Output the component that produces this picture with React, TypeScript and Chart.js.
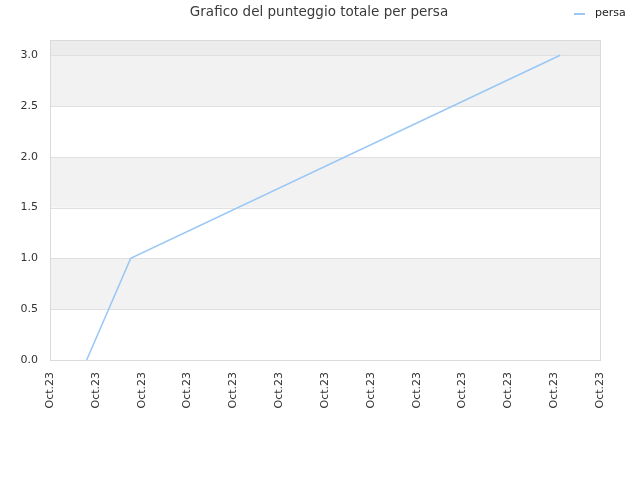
import React, { useEffect, useRef } from "react";
import { Chart, registerables } from "chart.js";

Chart.register(...registerables);

const chartTitle = "Grafico del punteggio totale per persa";
const seriesName = "persa";
const xTickLabels = ["Oct.23", "Oct.23", "Oct.23", "Oct.23", "Oct.23", "Oct.23", "Oct.23", "Oct.23", "Oct.23", "Oct.23", "Oct.23", "Oct.23", "Oct.23"];
const xPositions = [0.8, 1.76, 11.13];
const scores = [0, 1, 3];
const yTickValues = [0, 0.5, 1, 1.5, 2, 2.5, 3];

const FONT = "'DejaVu Sans', sans-serif";

const decorPlugin = {
  id: "decor",
  beforeDatasetsDraw(chart: any) {
    const { ctx, chartArea, scales } = chart;
    const y = scales.y;
    ctx.save();
    const ticks = y.ticks.map((t: any) => t.value);
    for (let i = 0; i < ticks.length; i++) {
      const lo = ticks[i];
      const hi = i + 1 < ticks.length ? ticks[i + 1] : y.max;
      const top = y.getPixelForValue(hi);
      const bot = y.getPixelForValue(lo);
      let color: string | null = null;
      if (i === ticks.length - 1) color = "#ececec";
      else if (i % 2 === 1) color = "#f2f2f2";
      if (color) {
        ctx.fillStyle = color;
        ctx.fillRect(chartArea.left, top, chartArea.right - chartArea.left, bot - top);
      }
    }
    ctx.strokeStyle = "#e0e0e0";
    ctx.lineWidth = 1;
    for (let i = 1; i < ticks.length; i++) {
      const py = Math.round(y.getPixelForValue(ticks[i])) + 0.5;
      ctx.beginPath();
      ctx.moveTo(chartArea.left, py);
      ctx.lineTo(chartArea.right, py);
      ctx.stroke();
    }
    ctx.strokeStyle = "#dadada";
    ctx.strokeRect(
      Math.round(chartArea.left) + 0.5,
      Math.round(chartArea.top) + 0.5,
      Math.round(chartArea.right - chartArea.left),
      Math.round(chartArea.bottom - chartArea.top)
    );
    ctx.restore();
  },
  afterDraw(chart: any) {
    const { ctx } = chart;
    ctx.save();
    ctx.fillStyle = "#3a3a3a";
    ctx.font = `13.5px ${FONT}`;
    ctx.textAlign = "center";
    ctx.textBaseline = "middle";
    ctx.fillText(chartTitle, 319, 12);
    const ds = chart.data.datasets[0];
    ctx.strokeStyle = ds.borderColor;
    ctx.lineWidth = 2;
    ctx.beginPath();
    ctx.moveTo(574, 14);
    ctx.lineTo(585, 14);
    ctx.stroke();
    ctx.fillStyle = "#222222";
    ctx.font = `11px ${FONT}`;
    ctx.textAlign = "left";
    ctx.fillText(ds.label, 595, 13);
    ctx.restore();
  },
};

export default function App() {
  const ref = useRef<HTMLCanvasElement | null>(null);
  useEffect(() => {
    document.body.style.margin = "0";
    if (!ref.current) return;
    const chart = new Chart(ref.current, {
      type: "line",
      data: {
        datasets: [
          {
            label: seriesName,
            data: xPositions.map((x, i) => ({ x, y: scores[i] })),
            borderColor: "#99c7f6",
            borderWidth: 1.5,
            pointRadius: 0,
            fill: false,
            tension: 0,
          },
        ],
      },
      options: {
        animation: false,
        responsive: false,
        maintainAspectRatio: false,
        layout: { padding: { top: 40, right: 40, left: 0, bottom: 0 } },
        plugins: {
          legend: { display: false },
          title: { display: false },
          tooltip: { enabled: false },
        },
        scales: {
          x: {
            type: "linear",
            min: 0,
            max: 12,
            afterFit: (s: any) => {
              s.height = 120;
            },
            ticks: {
              stepSize: 1,
              autoSkip: false,
              minRotation: 90,
              maxRotation: 90,
              padding: 12,
              color: "#333333",
              font: { family: FONT, size: 11 },
              callback: (v: any) => xTickLabels[Math.round(Number(v))] ?? "",
            },
            grid: { display: false, drawTicks: false },
            border: { display: false },
          },
          y: {
            min: 0,
            max: 3.15,
            afterBuildTicks: (s: any) => {
              s.ticks = yTickValues.map((v) => ({ value: v }));
            },
            afterFit: (s: any) => {
              s.width = 50;
            },
            ticks: {
              padding: 12,
              color: "#333333",
              font: { family: FONT, size: 11 },
              callback: (v: any) => Number(v).toFixed(1),
            },
            grid: { display: false, drawTicks: false },
            border: { display: false },
          },
        },
      },
      plugins: [decorPlugin],
    });
    return () => chart.destroy();
  }, []);
  return (
    <div style={{ width: 640, height: 480 }}>
      <canvas ref={ref} width={640} height={480} style={{ width: 640, height: 480 }} />
    </div>
  );
}
